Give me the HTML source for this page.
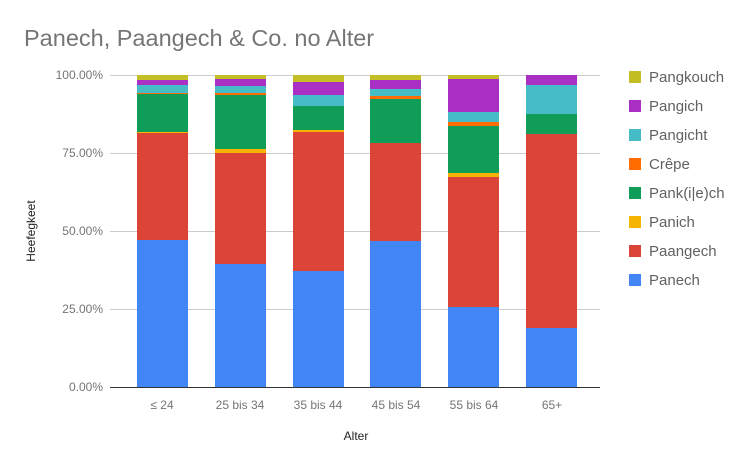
<!DOCTYPE html>
<html><head><meta charset="utf-8"><style>body{margin:0;background:#fff}svg{display:block;font-family:"Liberation Sans",sans-serif}</style></head><body>
<svg width="752" height="465" viewBox="0 0 752 465">
<rect width="752" height="465" fill="#fff"/>
<text x="24" y="46" font-size="23.5" fill="#757575">Panech, Paangech &amp; Co. no Alter</text>
<g stroke="#cccccc" stroke-width="1">
<line x1="110" y1="75.5" x2="600" y2="75.5"/><line x1="110" y1="153.5" x2="600" y2="153.5"/><line x1="110" y1="231.5" x2="600" y2="231.5"/><line x1="110" y1="309.5" x2="600" y2="309.5"/>
</g>
<g font-size="12" fill="#757575" text-anchor="end">
<text x="103" y="79">100.00%</text><text x="103" y="157">75.00%</text><text x="103" y="235">50.00%</text><text x="103" y="313">25.00%</text><text x="103" y="391">0.00%</text>
</g>
<g id="bars">
<rect x="137" y="75" width="51" height="5" fill="#c2be23"/><rect x="137" y="80" width="51" height="5" fill="#aa2fc4"/><rect x="137" y="85" width="51" height="8" fill="#46bdc6"/><rect x="137" y="93" width="51" height="1" fill="#ff6d01"/><rect x="137" y="94" width="51" height="38" fill="#0f9d58"/><rect x="137" y="132" width="51" height="1" fill="#f4b400"/><rect x="137" y="133" width="51" height="107" fill="#db4437"/><rect x="137" y="240" width="51" height="147" fill="#4285f4"/>
<rect x="215" y="75" width="51" height="4" fill="#c2be23"/><rect x="215" y="79" width="51" height="7" fill="#aa2fc4"/><rect x="215" y="86" width="51" height="7" fill="#46bdc6"/><rect x="215" y="93" width="51" height="2" fill="#ff6d01"/><rect x="215" y="95" width="51" height="54" fill="#0f9d58"/><rect x="215" y="149" width="51" height="4" fill="#f4b400"/><rect x="215" y="153" width="51" height="111" fill="#db4437"/><rect x="215" y="264" width="51" height="123" fill="#4285f4"/>
<rect x="293" y="75" width="51" height="7" fill="#c2be23"/><rect x="293" y="82" width="51" height="13" fill="#aa2fc4"/><rect x="293" y="95" width="51" height="11" fill="#46bdc6"/><rect x="293" y="106" width="51" height="24" fill="#0f9d58"/><rect x="293" y="130" width="51" height="2" fill="#f4b400"/><rect x="293" y="132" width="51" height="139" fill="#db4437"/><rect x="293" y="271" width="51" height="116" fill="#4285f4"/>
<rect x="370" y="75" width="51" height="5" fill="#c2be23"/><rect x="370" y="80" width="51" height="9" fill="#aa2fc4"/><rect x="370" y="89" width="51" height="7" fill="#46bdc6"/><rect x="370" y="96" width="51" height="3" fill="#ff6d01"/><rect x="370" y="99" width="51" height="44" fill="#0f9d58"/><rect x="370" y="143" width="51" height="98" fill="#db4437"/><rect x="370" y="241" width="51" height="146" fill="#4285f4"/>
<rect x="448" y="75" width="51" height="4" fill="#c2be23"/><rect x="448" y="79" width="51" height="33" fill="#aa2fc4"/><rect x="448" y="112" width="51" height="10" fill="#46bdc6"/><rect x="448" y="122" width="51" height="4" fill="#ff6d01"/><rect x="448" y="126" width="51" height="47" fill="#0f9d58"/><rect x="448" y="173" width="51" height="4" fill="#f4b400"/><rect x="448" y="177" width="51" height="130" fill="#db4437"/><rect x="448" y="307" width="51" height="80" fill="#4285f4"/>
<rect x="526" y="75" width="51" height="10" fill="#aa2fc4"/><rect x="526" y="85" width="51" height="29" fill="#46bdc6"/><rect x="526" y="114" width="51" height="20" fill="#0f9d58"/><rect x="526" y="134" width="51" height="194" fill="#db4437"/><rect x="526" y="328" width="51" height="59" fill="#4285f4"/>
</g>
<line x1="110" y1="387.5" x2="600" y2="387.5" stroke="#333" stroke-width="1"/>
<g font-size="12" fill="#757575" text-anchor="middle">
<text x="162" y="409">≤ 24</text><text x="240" y="409">25 bis 34</text><text x="318" y="409">35 bis 44</text><text x="396" y="409">45 bis 54</text><text x="474" y="409">55 bis 64</text><text x="552" y="409">65+</text>
</g>
<text x="356" y="440" font-size="12" fill="#222" text-anchor="middle">Alter</text>
<text transform="translate(35,231) rotate(-90)" font-size="12" fill="#222" text-anchor="middle">Heefegkeet</text>
<g font-size="15" fill="#616161">
<rect x="629" y="71" width="12" height="12" fill="#c2be23"/><text x="649" y="82">Pangkouch</text>
<rect x="629" y="100" width="12" height="12" fill="#aa2fc4"/><text x="649" y="111">Pangich</text>
<rect x="629" y="129" width="12" height="12" fill="#46bdc6"/><text x="649" y="140">Pangicht</text>
<rect x="629" y="158" width="12" height="12" fill="#ff6d01"/><text x="649" y="169">Crêpe</text>
<rect x="629" y="187" width="12" height="12" fill="#0f9d58"/><text x="649" y="198">Pank(i|e)ch</text>
<rect x="629" y="216" width="12" height="12" fill="#f4b400"/><text x="649" y="227">Panich</text>
<rect x="629" y="245" width="12" height="12" fill="#db4437"/><text x="649" y="256">Paangech</text>
<rect x="629" y="274" width="12" height="12" fill="#4285f4"/><text x="649" y="285">Panech</text>
</g>
</svg>
</body></html>
